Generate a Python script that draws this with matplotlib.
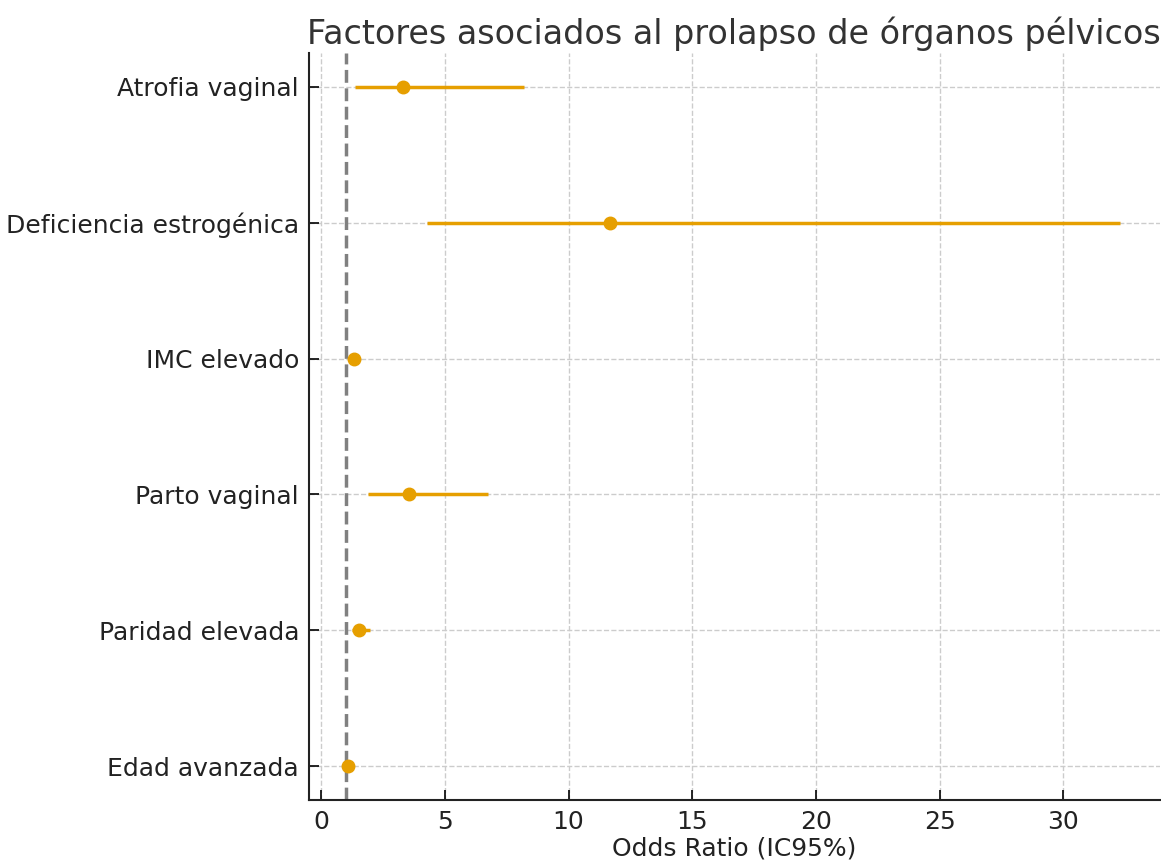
import matplotlib
matplotlib.use('Agg')
import matplotlib.pyplot as plt
import numpy as np

factores = ['Edad avanzada', 'Paridad elevada', 'Parto vaginal', 'IMC elevado',
            'Deficiencia estrogénica', 'Atrofia vaginal']
odds_ratio = [1.09, 1.53, 3.55, 1.33, 11.67, 3.30]
ic_bajo = [1.00, 1.25, 1.90, 1.20, 4.28, 1.37]
ic_alto = [1.20, 1.98, 6.74, 1.50, 32.3, 8.20]

fig = plt.figure(figsize=(11.61, 8.65), dpi=100)
ax = fig.add_axes([0.266, 0.075, 0.733, 0.864])

y = np.arange(len(factores))
err = [np.array(odds_ratio) - np.array(ic_bajo), np.array(ic_alto) - np.array(odds_ratio)]
ax.errorbar(odds_ratio, y, xerr=err, fmt='o', color='#E69F00', ecolor='#E69F00',
            elinewidth=2.5, markersize=9, capsize=0, zorder=3)
ax.axvline(1, color='gray', linestyle='--', linewidth=2.5, zorder=2)

ax.set_yticks(y)
ax.set_yticklabels(factores, fontsize=18, color='#222222')
ax.set_xlim(-0.5, 33.9)
ax.set_ylim(-0.25, 5.25)
ax.set_xticks(np.arange(0, 35, 5))
ax.tick_params(axis='both', direction='in', length=7, width=1.2, pad=7)
ax.tick_params(axis='x', labelsize=18, labelcolor='#222222')
ax.set_xlabel('Odds Ratio (IC95%)', fontsize=18, color='#222222', labelpad=2)
ax.set_title('Factores asociados al prolapso de órganos pélvicos', fontsize=24,
             color='#333333', pad=6)
ax.grid(True, linestyle='--', color='#cccccc', linewidth=1)
ax.set_axisbelow(True)
for s in ['top', 'right']:
    ax.spines[s].set_visible(False)
for s in ['left', 'bottom']:
    ax.spines[s].set_linewidth(1.5)
    ax.spines[s].set_color('#222222')

fig.savefig('out.png', dpi=100)
